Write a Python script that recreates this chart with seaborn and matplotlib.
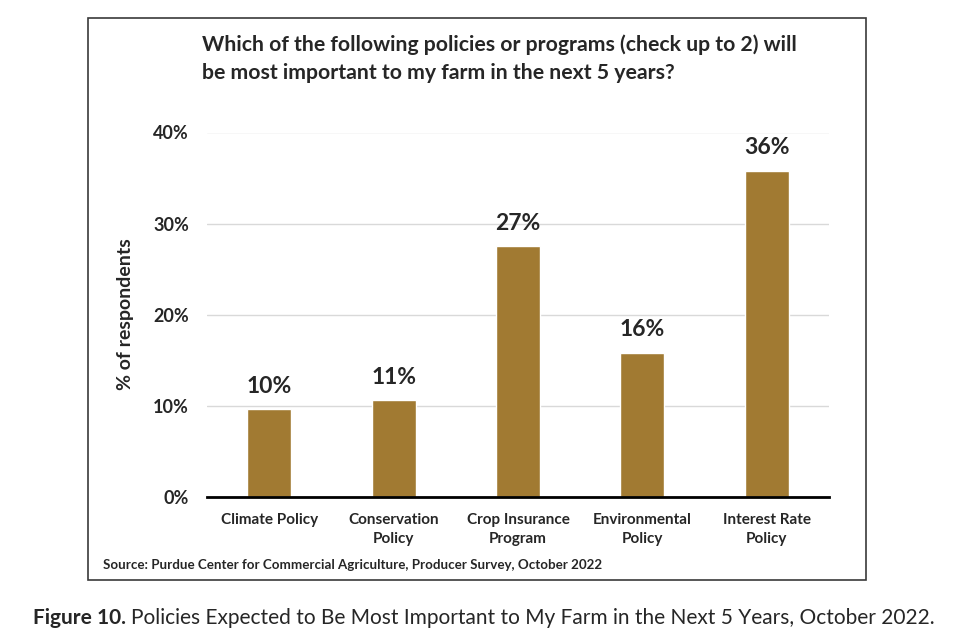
import numpy as np
import pandas as pd
import matplotlib.pyplot as plt
import seaborn as sns
from matplotlib.patches import Rectangle

# values (% of respondents)
categories = ['Climate Policy', 'Conservation\nPolicy', 'Crop Insurance\nProgram',
              'Environmental\nPolicy', 'Interest Rate\nPolicy']
values = [9.6, 10.6, 27.5, 15.8, 35.8]
labels = ['10%', '11%', '27%', '16%', '36%']
yticks = [0, 10, 20, 30, 40]

df = pd.DataFrame({'Policy': categories, 'Share': values})

sns.set_style('white')
plt.rcParams['font.family'] = ['Lato', 'DejaVu Sans']

W, H = 960, 639
fig = plt.figure(figsize=(9.6, 6.39), dpi=100)
fig.patch.set_facecolor('white')

# frame around the chart
fig.patches.append(Rectangle((88 / W, 59 / H), 778 / W, 562 / H,
                             transform=fig.transFigure, fill=False,
                             edgecolor='#3a3a3a', linewidth=1.2))

ax = fig.add_axes([207 / W, 142.3 / H, 622 / W, 364.2 / H])
sns.barplot(data=df, x='Policy', y='Share', color='#A17A32', width=0.355,
            saturation=1, ax=ax)

ax.set_ylim(0, 40)
ax.set_yticks(yticks)
ax.set_yticklabels([f'{t}%' for t in yticks], fontsize=13, fontweight='bold')
ax.yaxis.grid(True, color='#d9d9d9', linewidth=1)
ax.set_axisbelow(True)
ax.tick_params(axis='y', length=0, pad=13)
ax.tick_params(axis='x', length=0, pad=12)
for t in ax.get_xticklabels():
    t.set_fontsize(11)
    t.set_fontweight('bold')
    t.set_linespacing(1.45)

for s in ['top', 'right', 'left']:
    ax.spines[s].set_visible(False)
ax.spines['bottom'].set_color('black')
ax.spines['bottom'].set_linewidth(2)

ax.bar_label(ax.containers[0], labels=labels, padding=9,
             fontsize=16.5, fontweight='bold')

ax.set_xlabel('')
ax.set_ylabel('% of respondents', fontsize=14, fontweight='bold', labelpad=14)

fig.text(202 / W, 1 - 34 / H,
         'Which of the following policies or programs (check up to 2) will\n'
         'be most important to my farm in the next 5 years?',
         ha='left', va='top', fontsize=15.3, fontweight='bold', linespacing=1.5)

fig.text(103 / W, 1 - 565 / H,
         'Source: Purdue Center for Commercial Agriculture, Producer Survey, October 2022',
         ha='left', va='center', fontsize=9.6, fontweight='bold')

# caption below the frame: bold "Figure 10." followed by regular text
cap_y = 1 - 618 / H
bold = fig.text(33 / W, cap_y, 'Figure 10.', ha='left', va='center',
                fontsize=15, fontweight='bold')
renderer = fig.canvas.get_renderer()
bb = bold.get_window_extent(renderer)
fig.text((bb.x1 + 5) / W, cap_y,
         'Policies Expected to Be Most Important to My Farm in the Next 5 Years, October 2022.',
         ha='left', va='center', fontsize=15)

fig.savefig('out.png', dpi=100, facecolor='white')
